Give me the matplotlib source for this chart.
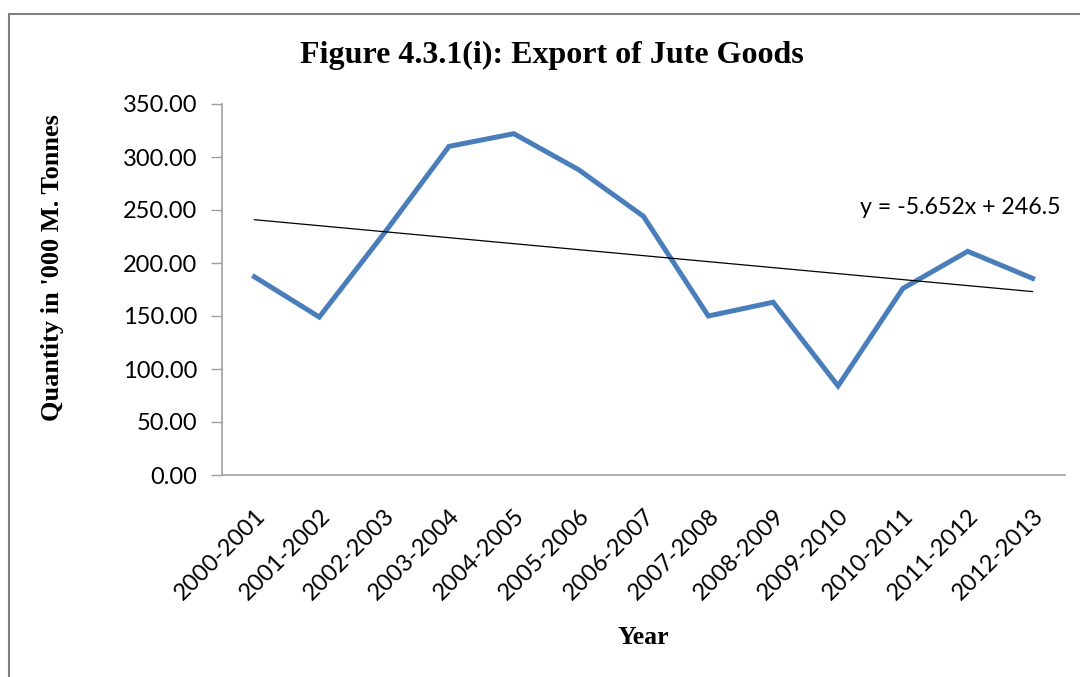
import matplotlib
matplotlib.use("Agg")
import matplotlib.pyplot as plt
import numpy as np
from matplotlib.patches import Rectangle

categories = ["2000-2001", "2001-2002", "2002-2003", "2003-2004", "2004-2005",
              "2005-2006", "2006-2007", "2007-2008", "2008-2009", "2009-2010",
              "2010-2011", "2011-2012", "2012-2013"]
export_qty = [187.0, 149.0, 228.0, 310.0, 322.0, 288.0, 244.0,
              150.0, 163.0, 84.0, 176.0, 211.0, 185.5]
trend_slope = -5.652
trend_intercept = 246.5
y_ticks = [0, 50, 100, 150, 200, 250, 300, 350]

fig = plt.figure(figsize=(10.8, 6.77), dpi=100)
W, H = 1080, 677
ax = fig.add_axes([222 / W, 1 - 475 / H, (1065 - 222) / W, (475 - 104) / H])

x = np.arange(len(categories))
ax.plot(x, export_qty, color="#4A7EBB", lw=3.6, solid_joinstyle="miter", zorder=3)
xt = np.arange(1, len(categories) + 1)
ax.plot(x, trend_slope * xt + trend_intercept, color="black", lw=0.9, zorder=4)

ax.set_xlim(-0.5, len(categories) - 0.5)
ax.set_ylim(0, 350)
ax.set_yticks(y_ticks)
ax.set_yticklabels([f"{v:.2f}" for v in y_ticks], fontfamily="Lato", fontsize=17)
ax.set_xticks(x)
ax.set_xticklabels(categories, rotation=45, ha="right", rotation_mode="anchor",
                   fontfamily="Lato", fontsize=17)
ax.tick_params(axis="x", length=0, pad=22)
ax.tick_params(axis="y", length=8, width=1, color="#A0A0A0", pad=10)
for s in ["top", "right"]:
    ax.spines[s].set_visible(False)
for s in ["left", "bottom"]:
    ax.spines[s].set_color("#A0A0A0")
    ax.spines[s].set_linewidth(1.2)

fig.text(552 / W, 1 - 55 / H, "Figure 4.3.1(i): Export of Jute Goods",
         ha="center", va="center", fontfamily="Liberation Serif",
         fontweight="bold", fontsize=23)
fig.text(53 / W, 1 - 268 / H, "Quantity in '000 M. Tonnes", rotation=90,
         ha="center", va="center", fontfamily="Liberation Serif",
         fontweight="bold", fontsize=19)
fig.text(643 / W, 1 - 637 / H, "Year", ha="center", va="center",
         fontfamily="Liberation Serif", fontweight="bold", fontsize=18.5)
ax.text(9.34, 252.8, "y = -5.652x + 246.5", ha="left", va="center",
        fontfamily="Lato", fontsize=16.7)

fig.patches.append(Rectangle((9 / W, -0.1), 1.2, 1 - 14 / H + 0.1,
                             transform=fig.transFigure, fill=False,
                             edgecolor="#808080", lw=1.5))

fig.savefig("out.png", dpi=100)
